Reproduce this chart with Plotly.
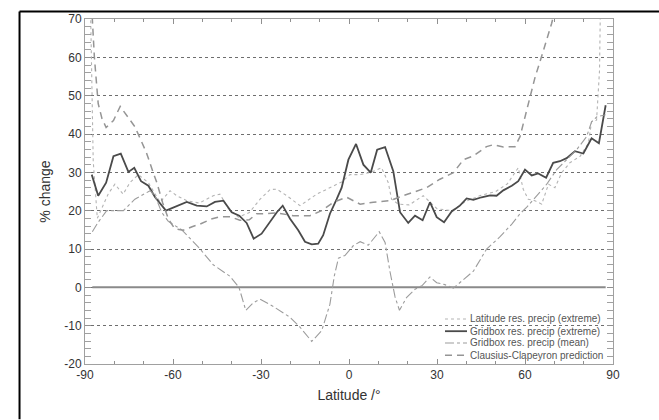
import plotly.graph_objects as go

# Zonal-mean percentage change in precipitation per latitude band

# Latitude-resolution precip (extreme), dotted
lat_latres = [-88.5, -87.2, -85.8, -84.0, -82.0, -79.8, -77.0, -74.7, -71.8, -68.4,
              -64.4, -61.0, -58.7, -55.0, -51.0, -46.3, -44.0, -41.1, -37.7, -34.0,
              -30.3, -26.9, -24.6, -21.2, -16.7, -11.0, -6.5, -2.5, 0.3, 3.8,
              7.5, 11.1, 13.4, 14.5, 16.8, 20.5, 25.3, 30.0, 35.0, 40.0,
              45.0, 50.0, 54.0, 57.7, 59.4, 61.1, 63.4, 65.7, 68.0, 70.2,
              72.5, 75.3, 78.8, 81.6, 82.7, 84.4, 85.4, 86.0]
val_latres = [90.0, 33.0, 18.0, 21.0, 24.5, 26.9, 24.3, 27.3, 29.4, 27.3,
              22.2, 25.2, 23.9, 22.5, 22.0, 23.9, 24.3, 20.5, 18.3, 19.5,
              23.0, 25.5, 25.6, 23.9, 21.3, 24.3, 26.0, 27.5, 29.4, 29.4,
              30.0, 31.2, 27.3, 23.0, 21.7, 21.5, 23.9, 20.5, 20.0, 22.5,
              24.0, 25.0, 27.0, 31.2, 25.6, 23.0, 22.6, 21.7, 26.9, 26.0,
              29.9, 32.5, 34.2, 37.6, 43.2, 43.6, 56.5, 90.0]

# Gridbox-resolution precip (extreme), solid
lat_gbext = [-87.7, -85.5, -82.8, -80.3, -77.8, -75.2, -73.2, -70.9, -68.4, -66.1,
             -62.4, -58.7, -55.3, -51.9, -48.5, -45.7, -42.8, -40.0, -37.4, -34.9,
             -32.5, -29.8, -26.9, -24.6, -22.6, -20.1, -17.3, -15.0, -12.7, -10.5,
             -8.8, -6.5, -4.2, -2.5, -0.2, 2.4, 4.9, 7.4, 9.6, 12.3,
             15.1, 17.4, 20.2, 22.5, 25.1, 27.6, 29.9, 32.4, 35.0, 37.8,
             40.1, 42.4, 45.2, 48.1, 50.3, 52.6, 55.5, 57.7, 60.0, 62.3,
             64.5, 67.2, 69.6, 71.9, 74.2, 77.0, 79.9, 82.7, 85.2, 87.5]
val_gbext = [29.4, 23.9, 27.3, 34.2, 34.9, 30.1, 31.2, 27.7, 26.5, 23.5,
             20.0, 21.3, 22.3, 21.3, 21.1, 22.3, 22.6, 19.6, 18.7, 16.8,
             12.7, 14.0, 17.0, 19.6, 21.3, 17.9, 14.9, 11.9, 11.2, 11.4,
             13.6, 19.2, 23.0, 26.0, 33.3, 37.4, 32.0, 29.9, 35.9, 36.6,
             30.3, 19.6, 16.8, 18.7, 17.5, 22.2, 18.3, 17.0, 19.8, 21.3,
             23.2, 22.8, 23.5, 24.0, 23.9, 25.3, 26.5, 27.7, 30.7, 29.2,
             29.7, 28.6, 32.5, 32.9, 33.7, 35.5, 34.9, 38.9, 37.6, 47.5]

# Gridbox-resolution precip (mean), dash-dot
lat_gbmean = [-87.5, -85.5, -82.6, -80.3, -76.9, -73.0, -70.1, -67.8, -66.1, -63.9,
              -61.6, -57.0, -51.0, -46.3, -40.6, -37.5, -35.2, -32.6, -30.3, -25.8,
              -20.1, -16.7, -12.7, -9.3, -6.5, -5.0, -3.6, -1.4, 1.5, 3.8,
              6.6, 10.3, 12.3, 14.0, 15.7, 17.2, 19.6, 22.5, 25.0, 27.6,
              29.9, 32.7, 35.6, 39.0, 42.4, 46.9, 51.5, 55.5, 58.3, 60.6,
              64.0, 67.4, 70.8, 74.2, 77.6, 81.0, 82.7, 84.5, 87.5]
val_gbmean = [14.5, 17.0, 20.0, 20.0, 20.0, 23.0, 24.3, 25.2, 23.9, 19.6,
              17.2, 15.0, 10.2, 5.9, 2.9, 0.0, -6.0, -4.0, -3.1, -5.0,
              -7.8, -10.4, -14.1, -11.3, -4.4, 3.0, 7.6, 8.3, 10.9, 11.9,
              11.0, 14.5, 11.7, 4.0, -2.5, -6.0, -2.7, -0.5, 0.5, 2.7,
              1.2, 0.7, -0.2, 2.0, 4.2, 10.0, 13.2, 16.5, 19.2, 20.9,
              23.9, 26.9, 30.7, 33.3, 35.9, 39.3, 43.2, 44.5, 45.0]

# Clausius-Clapeyron prediction, dashed
lat_cc = [-88.2, -86.8, -85.5, -84.2, -82.8, -80.3, -78.0, -75.5, -73.0, -71.0,
          -69.0, -67.0, -65.5, -63.5, -61.5, -59.4, -56.5, -53.5, -50.8, -47.0,
          -44.0, -40.5, -37.2, -34.0, -31.5, -29.2, -24.6, -19.0, -13.3, -9.3,
          -5.3, -0.8, 3.8, 8.3, 14.0, 18.5, 23.1, 26.5, 31.0, 35.6,
          39.0, 42.4, 46.9, 49.2, 52.6, 56.6, 58.3, 60.6, 63.4, 66.2,
          69.1, 71.0]
val_cc = [80.0, 60.0, 47.9, 44.0, 41.7, 43.5, 47.2, 44.5, 41.9, 38.5,
          35.0, 30.5, 27.3, 22.0, 17.7, 15.3, 14.9, 15.8, 16.5, 17.8,
          18.4, 18.4, 17.5, 17.6, 19.2, 19.2, 19.4, 18.7, 18.7, 20.0,
          22.2, 23.5, 21.7, 22.2, 22.6, 23.9, 25.2, 26.0, 28.2, 29.9,
          33.3, 34.3, 36.7, 37.2, 36.6, 36.7, 39.3, 46.2, 54.7, 61.6,
          68.9, 75.0]

# Zero reference line
lat_zero = [-87.5, 87.5]
val_zero = [0.0, 0.0]

series_names = ["Latitude res. precip (extreme)",
                "Gridbox res. precip (extreme)",
                "Gridbox res. precip (mean)",
                "Clausius-Clapeyron prediction"]

x_ticks = [-90, -60, -30, 0, 30, 60, 90]
x_ticklabels = ["-90", "-60", "-30", "0", "30", "60", "90"]
y_ticks = [-20, -10, 0, 10, 20, 30, 40, 50, 60, 70]
y_ticklabels = ["-20", "-10", "0", "10", "20", "30", "40", "50", "60", "70"]

FONT = "Liberation Sans, Arial, Helvetica, sans-serif"

styles = [
    dict(color="#b4b4b4", width=1.1, dash="dot"),
    dict(color="#4a4a4a", width=1.8, dash="solid"),
    dict(color="#9c9c9c", width=1.1, dash="dashdot"),
    dict(color="#959595", width=1.5, dash="7px,5px"),
]

fig = go.Figure()

fig.add_trace(go.Scatter(x=lat_zero, y=val_zero, mode="lines",
                         line=dict(color="#8a8a8a", width=2),
                         showlegend=False, hoverinfo="skip"))

for lat, val, name, st in zip([lat_latres, lat_gbext, lat_gbmean, lat_cc],
                              [val_latres, val_gbext, val_gbmean, val_cc],
                              series_names, styles):
    fig.add_trace(go.Scatter(x=lat, y=val, mode="lines", name=name,
                             line=st, showlegend=False))

# Hand-built compact legend in the lower right of the plot area
row_y = [0.1306, 0.0951, 0.0609, 0.0257]
for name, st, yy in zip(series_names, styles, row_y):
    fig.add_shape(type="line", xref="paper", yref="paper",
                  x0=0.6818, x1=0.7235, y0=yy, y1=yy, line=st)
    fig.add_annotation(x=0.7254, y=yy, xref="paper", yref="paper",
                       text=name, showarrow=False, xanchor="left",
                       yanchor="middle",
                       font=dict(family=FONT, size=10, color="#555555"))

# Outer black frame: top and left edges, running to the page boundary
FRAME_X = -0.124
FRAME_Y = 1.0214
PAGE_RIGHT = 1.0871
PAGE_BOTTOM = -0.16
fig.add_shape(type="line", xref="paper", yref="paper",
              x0=FRAME_X, x1=PAGE_RIGHT, y0=FRAME_Y, y1=FRAME_Y,
              line=dict(color="black", width=2), layer="above")
fig.add_shape(type="line", xref="paper", yref="paper",
              x0=FRAME_X, x1=FRAME_X, y0=PAGE_BOTTOM, y1=FRAME_Y,
              line=dict(color="black", width=2), layer="above")

axis_common = dict(
    showline=True, linecolor="#a0a0a0", linewidth=1, mirror="ticks",
    ticks="inside", tickcolor="#909090", zeroline=False,
    tickfont=dict(family=FONT, size=12, color="#333333"),
)

fig.update_xaxes(
    range=[-90, 90], tickvals=x_ticks, ticktext=x_ticklabels, ticklen=5,
    showgrid=False,
    minor=dict(dtick=10, ticklen=3, tickcolor="#909090", ticks="inside"),
    title=dict(text="Latitude /°", font=dict(family=FONT, size=14, color="#333333"),
               standoff=8),
    **axis_common,
)
fig.update_yaxes(
    range=[-20, 70], tickvals=y_ticks, ticktext=y_ticklabels, ticklen=6,
    showgrid=True, gridcolor="#6e6e6e", gridwidth=1, griddash="dot",
    minor=dict(dtick=2, ticklen=6, tickcolor="#a0a0a0", ticks="inside",
               showgrid=False),
    title=dict(text="% change", font=dict(family=FONT, size=14, color="#333333"),
               standoff=10),
    **axis_common,
)

fig.update_layout(
    width=659, height=420,
    margin=dict(l=85, r=46, t=14, b=56),
    paper_bgcolor="white", plot_bgcolor="white",
    showlegend=False,
    font=dict(family=FONT),
)

fig.write_html("out.html")
